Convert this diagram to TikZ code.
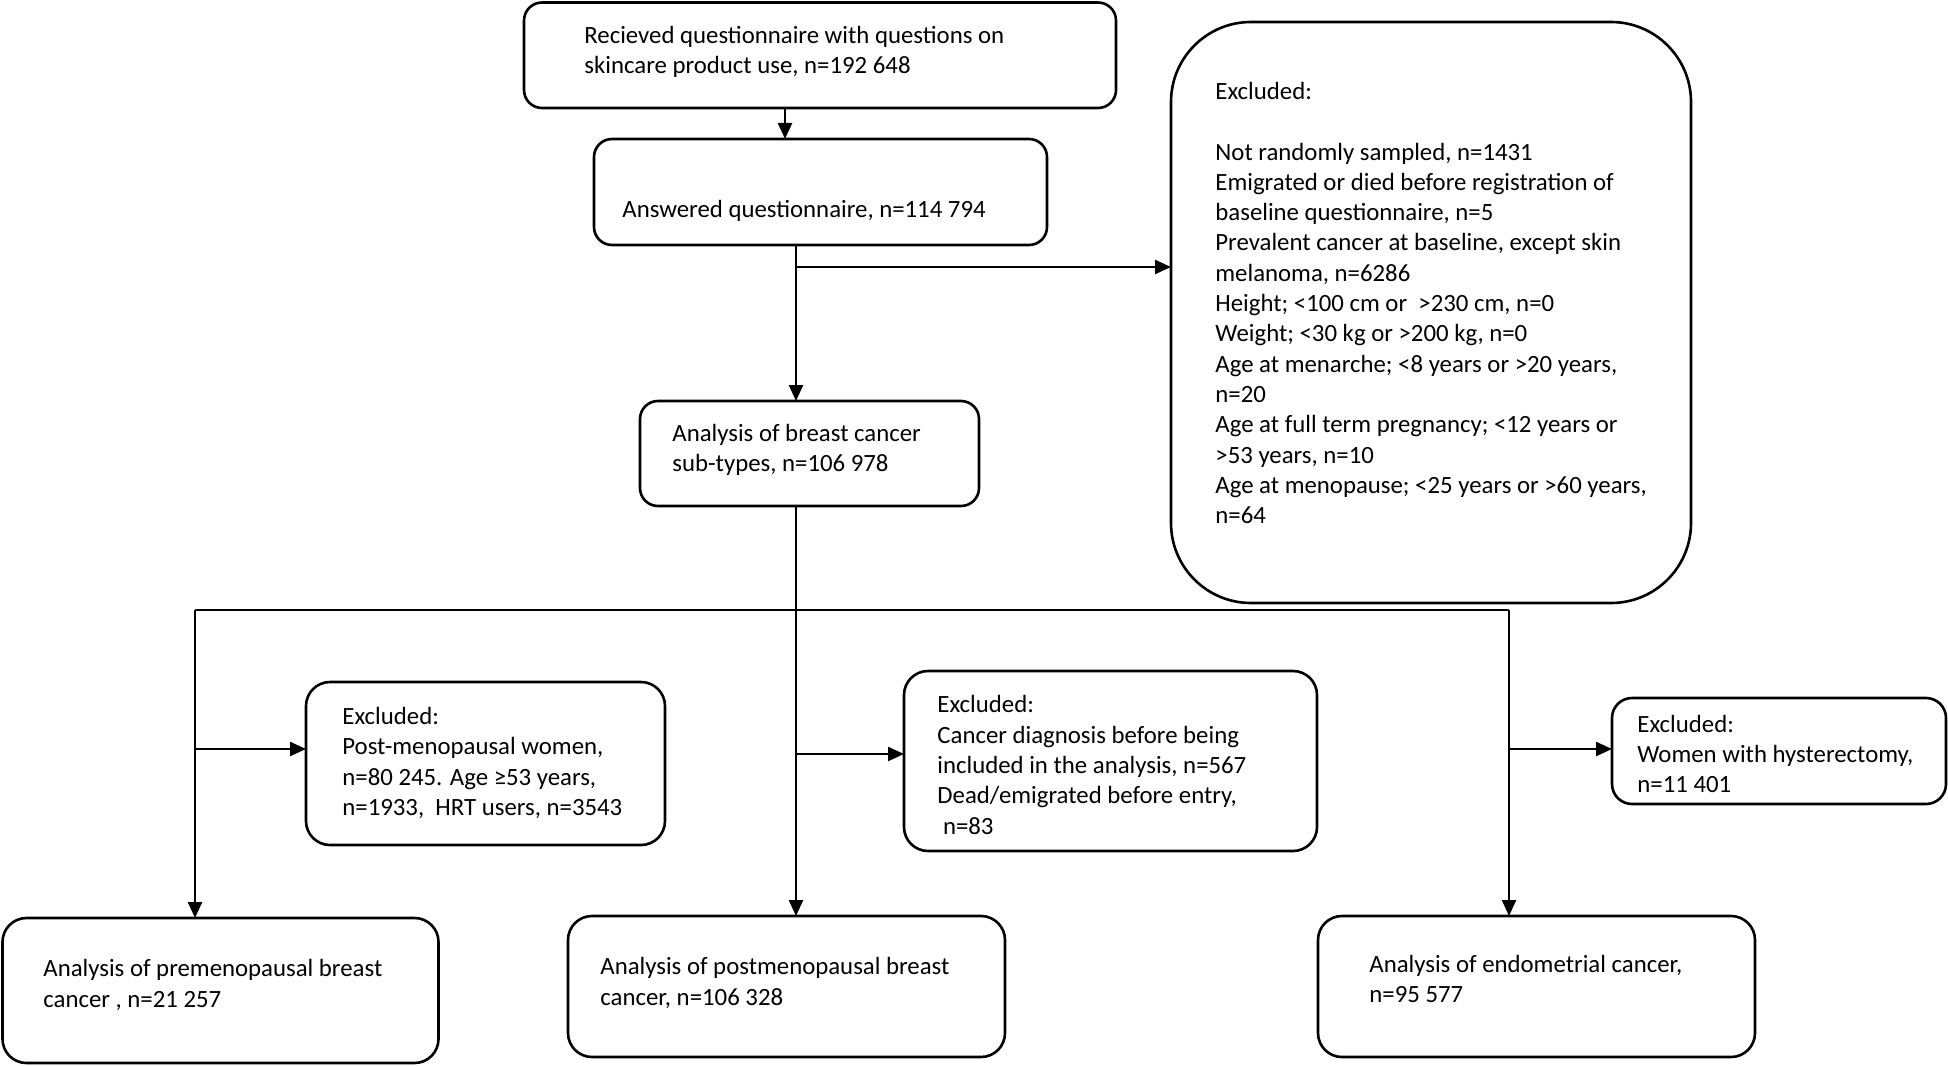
\documentclass[tikz,border=0pt]{standalone}
\usepackage{fontspec}
\setmainfont{Carlito}
\usetikzlibrary{arrows.meta}
\begin{document}
\begin{tikzpicture}[x=0.5pt,y=-0.5pt,
  box/.style={draw, line width=1.3pt, rounded corners=9pt, inner sep=0pt, outer sep=0pt},
  txt/.style={inner sep=0pt, anchor=west, align=left, font=\fontsize{12.4}{15.15}\selectfont},
  arr/.style={line width=1.2pt, -{Triangle[length=8pt,width=7pt]}},
  ln/.style={line width=0.8pt}]
\useasboundingbox (0,0) rectangle (1948,1065);
% boxes
\node[box, minimum width=296pt, minimum height=52.75pt] (b1) at (820,55.25) {};
\node[box, minimum width=226.5pt, minimum height=53pt] (b2) at (820.5,192) {};
\node[box, minimum width=169.5pt, minimum height=52.5pt] (b3) at (809.5,453.5) {};
\node[box, rounded corners=40pt, minimum width=260pt, minimum height=290.5pt] (big) at (1431,312.5) {};
\node[box, rounded corners=12pt, minimum width=179.5pt, minimum height=81.5pt] (eA) at (485.5,763.5) {};
\node[box, rounded corners=12pt, minimum width=206.5pt, minimum height=90pt] (eB) at (1110.5,761) {};
\node[box, rounded corners=10pt, minimum width=167pt, minimum height=53pt] (eC) at (1779,751) {};
\node[box, rounded corners=12pt, minimum width=218pt, minimum height=72.5pt] (pre) at (220.5,990.5) {};
\node[box, rounded corners=12pt, minimum width=218.5pt, minimum height=70.5pt] (post) at (786.5,986.5) {};
\node[box, rounded corners=12pt, minimum width=218.5pt, minimum height=70.5pt] (endo) at (1536.5,986.5) {};
% texts
\node[txt] (t1) at (584,52) {Recieved questionnaire with questions on\\skincare product use, n=192 648};
\node[txt] (t2) at (622,211) {Answered questionnaire, n=114 794};
\node[txt] (t3) at (672,450) {Analysis of breast cancer\\sub-types, n=106 978};
\node[txt] (tbig) at (1215,303) {Excluded:\\[15.15pt]
Not randomly sampled, n=1431\\
Emigrated or died before registration of\\
baseline questionnaire, n=5\\
Prevalent cancer at baseline, except skin\\
melanoma, n=6286\\
Height; <100 cm or\ \ >230 cm, n=0\\
Weight; <30 kg or >200 kg, n=0\\
Age at menarche; <8 years or >20 years,\\
n=20\\
Age at full term pregnancy; <12 years or\\
>53 years, n=10\\
Age at menopause; <25 years or >60 years,\\
n=64};
\node[txt] (tA) at (342,763) {Excluded:\\Post-menopausal women,\\n=80 245. Age ≥53 years,\\n=1933,\ \ HRT users, n=3543};
\node[txt] (tB) at (937,765) {Excluded:\\Cancer diagnosis before being\\included in the analysis, n=567\\Dead/emigrated before entry,\\\ n=83};
\node[txt] (tC) at (1637,754) {Excluded:\\Women with hysterectomy,\\n=11 401};
\node[txt] (tpre) at (43,985) {Analysis of premenopausal breast\\cancer , n=21 257};
\node[txt] (tpost) at (600,983) {Analysis of postmenopausal breast\\cancer, n=106 328};
\node[txt] (tendo) at (1369,979) {Analysis of endometrial cancer,\\n=95 577};
% helper coordinates
\coordinate (xa) at (785,0);
\coordinate (xm) at (796,0);
\coordinate (xl) at (195,0);
\coordinate (xr) at (1509,0);
\coordinate (yb) at (0,267);
\coordinate (yh) at (0,610);
\coordinate (yl) at (0,749);
\coordinate (ym) at (0,754);
% connectors
\draw[arr] (b1.south -| xa) -- (b2.north -| xa);
\draw[arr] (b2.south -| xm) -- (b3.north -| xm);
\draw[arr] (xm |- yb) -- (big.west |- yb);
\draw[ln] (b3.south -| xm) -- (xm |- yh);
\draw[ln] (xl |- yh) -- (xr |- yh);
\draw[arr] (xl |- yh) -- (pre.north -| xl);
\draw[arr] (xm |- yh) -- (post.north -| xm);
\draw[arr] (xr |- yh) -- (endo.north -| xr);
\draw[arr] (xl |- yl) -- (eA.west |- yl);
\draw[arr] (xm |- ym) -- (eB.west |- ym);
\draw[arr] (xr |- yl) -- (eC.west |- yl);
\end{tikzpicture}
\end{document}
